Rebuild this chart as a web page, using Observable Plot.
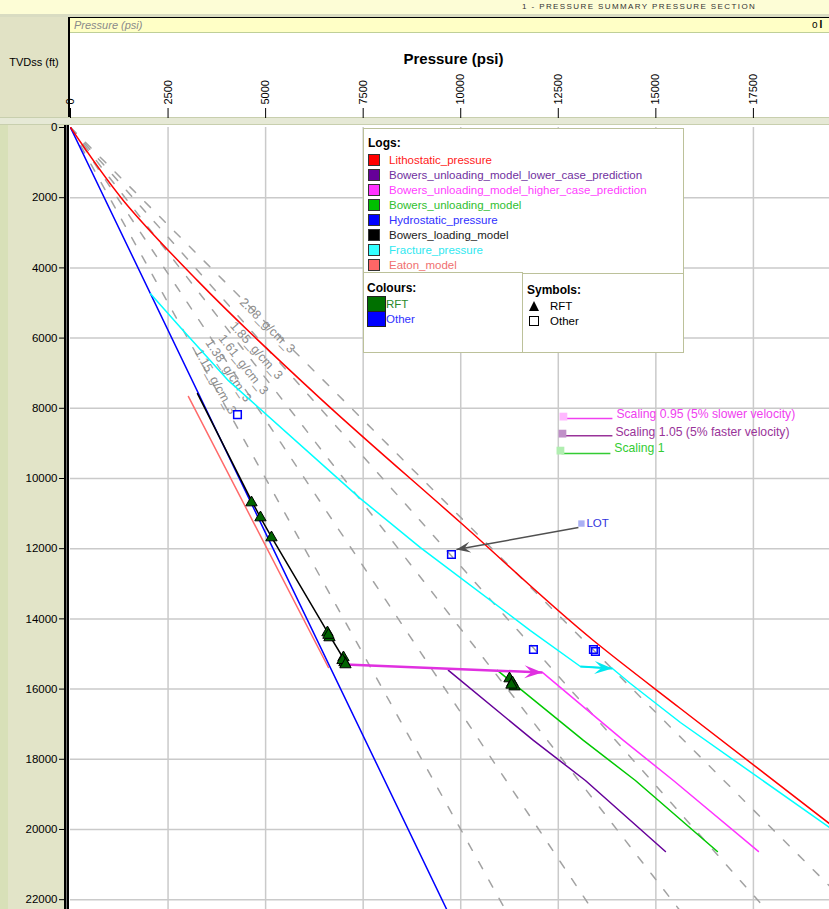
<!DOCTYPE html>
<html><head><meta charset="utf-8">
<script src="https://cdn.jsdelivr.net/npm/d3@7"></script>
<script src="https://cdn.jsdelivr.net/npm/@observablehq/plot@0.6"></script>
<style>
body{margin:0;background:#fff;font-family:"Liberation Sans",Arial,sans-serif;}
#wrap{position:relative;width:829px;height:909px;overflow:hidden;background:#fff;}
.abs{position:absolute;}
#wrap svg{position:absolute;left:0;top:0;}
g[aria-label="grad-label"] text{letter-spacing:1.6px;}
.leg{position:absolute;background:#fff;border:1.5px solid #bcc19a;box-sizing:border-box;font-size:11.5px;}
.leg b{font-size:12px;}
.row{position:absolute;left:4px;height:12px;line-height:12px;white-space:nowrap;}
.sw{display:inline-block;width:10px;height:10px;border:1px solid #333;vertical-align:middle;margin-right:9px;position:relative;top:-1px;}
</style></head><body>
<div id="wrap">
  <div class="abs" style="left:0;top:0;width:829px;height:14px;background:#fdfdd6;"></div>
  <div class="abs" style="left:522px;top:2px;font-size:8px;line-height:10px;letter-spacing:1.4px;color:#333;white-space:nowrap;">1 - PRESSURE SUMMARY PRESSURE SECTION</div>
  <div class="abs" style="left:0;top:14px;width:829px;height:3px;background:#d9dcc2;"></div>
  <div class="abs" style="left:0;top:17px;width:68px;height:101px;background:#e1e2c5;"></div>
  <div class="abs" style="left:68px;top:17px;width:2px;height:101px;background:#000;"></div>
  <div class="abs" style="left:68px;top:17px;width:761px;height:1px;background:#000;"></div>
  <div class="abs" style="left:70px;top:18px;width:759px;height:14px;background:#ffffc6;border-bottom:1px solid #bfcf98;"></div>
  <div class="abs" style="left:74px;top:18px;font-size:11px;font-style:italic;color:#8a8a8a;line-height:14px;">Pressure (psi)</div>
  <div class="abs" style="left:812px;top:18px;font-size:10px;color:#000;line-height:14px;">o&#8201;<b>I</b></div>
  <div class="abs" style="left:0;top:56px;width:68px;text-align:center;font-size:11px;color:#000;">TVDss (ft)</div>
  <div class="abs" style="left:74px;top:50px;width:759px;text-align:center;font-size:15px;font-weight:bold;color:#000;">Pressure (psi)</div>
  <div class="abs" style="left:0;top:117px;width:829px;height:8px;background:#e6e9d6;border-top:1px solid #c8cfae;border-bottom:1px solid #c8cfae;box-sizing:border-box;"></div>
  <div class="abs" style="left:0;top:125px;width:64px;height:784px;background:#e2e4c8;"></div>
  <div class="abs" style="left:0;top:125px;width:8px;height:784px;background:#d8e0b8;"></div>
  <div class="abs" style="left:64px;top:125px;width:2px;height:784px;background:#000;"></div>
  <div class="abs" style="left:66px;top:125px;width:1px;height:784px;background:#777;"></div>
  <div class="abs" style="left:67px;top:125px;width:2px;height:784px;background:#000;"></div>
</div>
<script>
// ---------- data ----------
const xTicks = [0, 2500, 5000, 7500, 10000, 12500, 15000, 17500];
const yTicks = [0, 2000, 4000, 6000, 8000, 10000, 12000, 14000, 16000, 18000, 20000, 22000];

const gradients = [0.5, 0.6, 0.7, 0.8, 0.9];               // psi/ft
const gradLabels = ["1.15_g/cm_3", "1.38_g/cm_3", "1.61_g/cm_3", "1.85_g/cm_3", "2.08_g/cm_3"];
const gradLabelPsi = [3715, 4048, 4432, 4765, 5047];
const gradLabelDepth = [7239, 6927, 6755, 6356, 5645];

const hydroDepth = [0, 22300];
const hydroPsi = [0, 9650];

const lithoDepth = [0, 2085, 4363, 7724, 11254, 14617, 16554, 19831];
const lithoPsi   = [0, 1358, 3254, 6405, 9992, 13400, 15629, 19447];

const fracDepth = [4735, 5701, 7212, 10573, 11968, 14332, 15357, 15414, 15841, 16952, 19943];
const fracPsi   = [2050, 2818, 4048, 7430, 8967, 11786, 13067, 13887, 14348, 15629, 19447];

const eatonDepth = [7665, 15385];
const eatonPsi   = [3023, 6610];

const loadDepth = [7581, 10572, 11113, 11711, 14417, 15129, 15299];
const loadPsi   = [3254, 4612, 4868, 5175, 6610, 6995, 7046];

const lowDepth  = [15469, 17463, 18604, 20626];
const lowPsi    = [9685, 11863, 13195, 15245];
const midDepth  = [15469, 17463, 18604, 20626];
const midPsi    = [10940, 13144, 14476, 16577];
const highDepth = [15526, 17463, 18604, 20626];
const highPsi   = [12093, 14169, 15450, 17627];

const rftPsi   = [4638, 4868, 5150, 6585, 6636, 6610, 6995, 7020, 6970, 7046, 11250, 11325, 11380, 11300];
const rftDepth = [10686, 11113, 11683, 14389, 14531, 14460, 15101, 15243, 15180, 15300, 15700, 15813, 15930, 15880];

const otherPsi   = [4279, 9762, 11863, 13400, 13451];
const otherDepth = [8180, 12167, 14873, 14873, 14930];

// arrows: [fromPsi, fromDepth, toPsi, toDepth]
const magentaArrow = [7046, 15299, 12093, 15526];
const cyanArrow    = [13067, 15357, 13887, 15414];
const lotArrow     = [13016, 11398, 9890, 12025];

const lotPsi = 13093, lotDepth = 11284;

const scaleTexts = ["Scaling 0.95 (5% slower velocity)", "Scaling 1.05 (5% faster velocity)", "Scaling 1"];
const scaleSquarePsi = [12631, 12606, 12555];
const scaleSquareDepth = [8237, 8722, 9206];
const scaleLineStart = [12631, 12606, 12580];
const scaleLineEnd = [13887, 13887, 13835];
const scaleLineDepth = [8294, 8779, 9291];
const scaleTextPsi = [13989, 13963, 13937];
const scaleTextDepth = [8152, 8665, 9120];
const scaleColors = ["#f040f0", "#993399", "#33cc33"];
const scaleSquareColors = ["#ffb8ff", "#c090c8", "#b0eeb0"];

// ---------- build ----------
const W = 829, H = 909, ML = 70, MT = 127;
const xDomain = [0, 19450], yDomain = [0, 22280];
const sx = d3.scaleLinear(xDomain, [ML, W]);
const sy = d3.scaleLinear(yDomain, [MT, H]);

const series = (ps, ds) => ps.map((p, i) => ({p, d: ds[i]}));
const gradRows = gradients.flatMap(g => [{p: 0, d: 0, g}, {p: g * 23000, d: 23000, g}]);
const gradLab = gradLabels.map((t, i) => ({t, p: gradLabelPsi[i], d: gradLabelDepth[i],
  a: Math.atan2(sy(1000) - sy(0), sx(gradients[i] * 1000) - sx(0)) * 180 / Math.PI}));

function head(L, Wd, notch) {
  return {draw(ctx) {
    ctx.moveTo(0, 0); ctx.lineTo(-L, -Wd / 2); ctx.lineTo(-L * notch, 0); ctx.lineTo(-L, Wd / 2); ctx.closePath();
  }};
}
function ang(a) { return Math.atan2(sy(a[3]) - sy(a[1]), sx(a[2]) - sx(a[0])) * 180 / Math.PI; }
function arrowMarks(a, color, L, Wd, width) {
  return [
    Plot.link([a], {x1: d => d[0], y1: d => d[1], x2: d => d[2], y2: d => d[3], stroke: color, strokeWidth: width}),
    Plot.dot([a], {x: d => d[2], y: d => d[3], symbol: head(L, Wd, 0.6), rotate: ang(a), fill: color, stroke: "none"})
  ];
}
const lw = 1.5;
const scaleRows = scaleTexts.map((t, i) => ({t, i}));

const plot = Plot.plot({
  width: W, height: H, marginLeft: ML, marginRight: 0, marginTop: MT, marginBottom: 0,
  x: {domain: xDomain}, y: {domain: yDomain, reverse: true},
  style: {fontFamily: "'Liberation Sans', Arial, sans-serif", fontSize: "11px", background: "transparent", color: "#000"},
  marks: [
    Plot.gridX(xTicks.slice(1), {stroke: "#cacaca", strokeOpacity: 1, strokeWidth: 1.5}),
    Plot.gridY(yTicks.slice(1), {stroke: "#cacaca", strokeOpacity: 1, strokeWidth: 1.5}),
    Plot.line(gradRows, {x: "p", y: "d", z: "g", stroke: "#a2a2a2", strokeWidth: 1.5, strokeDasharray: "8,13", clip: true}),
    Plot.text(gradLab, {x: "p", y: "d", text: "t", rotate: "a", fill: "#8c8c8c", fontSize: 12.5, ariaLabel: "grad-label"}),
    Plot.line(series(eatonPsi, eatonDepth), {x: "p", y: "d", stroke: "#ff6a6a", strokeWidth: lw}),
    Plot.line(series(hydroPsi, hydroDepth), {x: "p", y: "d", stroke: "#0000ff", strokeWidth: lw, clip: true}),
    Plot.line(series(lithoPsi, lithoDepth), {x: "p", y: "d", stroke: "#ff0000", strokeWidth: lw, curve: "monotone-y", clip: true}),
    Plot.line(series(fracPsi, fracDepth), {x: "p", y: "d", stroke: "#00ffff", strokeWidth: lw, clip: true}),
    Plot.line(series(loadPsi, loadDepth), {x: "p", y: "d", stroke: "#000", strokeWidth: lw}),
    Plot.line(series(lowPsi, lowDepth), {x: "p", y: "d", stroke: "#660099", strokeWidth: lw}),
    Plot.line(series(midPsi, midDepth), {x: "p", y: "d", stroke: "#00c800", strokeWidth: lw}),
    Plot.line(series(highPsi, highDepth), {x: "p", y: "d", stroke: "#ff33ff", strokeWidth: lw}),
    ...arrowMarks(magentaArrow, "#e030e0", 18, 13, 2.5),
    ...arrowMarks(cyanArrow, "#00e8f0", 18, 13, 2),
    ...arrowMarks(lotArrow, "#505050", 14, 11, 1.5),
    Plot.dot(series(rftPsi, rftDepth), {x: "p", y: "d", symbol: "triangle", r: 4.2, fill: "#006400", stroke: "#000", strokeWidth: 1}),
    Plot.dot(series(otherPsi, otherDepth), {x: "p", y: "d", symbol: "square", r: 4.3, fill: "none", stroke: "#0000ff", strokeWidth: 1.5}),
    Plot.dot([{p: lotPsi, d: lotDepth}], {x: "p", y: "d", symbol: "square", r: 3.6, fill: "#aab0f4", stroke: "none"}),
    Plot.text([{p: lotPsi, d: lotDepth}], {x: "p", y: "d", text: () => "LOT", dx: 5, textAnchor: "start", fill: "#3333dd", fontSize: 11.5}),
    Plot.link(scaleRows, {x1: d => scaleLineStart[d.i], x2: d => scaleLineEnd[d.i], y1: d => scaleLineDepth[d.i], y2: d => scaleLineDepth[d.i], stroke: d => scaleColors[d.i], strokeWidth: 1.5}),
    Plot.dot(scaleRows, {x: d => scaleSquarePsi[d.i], y: d => scaleSquareDepth[d.i], symbol: "square", r: 4.4, fill: d => scaleSquareColors[d.i], stroke: "none"}),
    Plot.text(scaleRows, {x: d => scaleTextPsi[d.i], y: d => scaleTextDepth[d.i], text: "t", textAnchor: "start", fill: d => scaleColors[d.i], fontSize: 12.2}),
    Plot.axisX(xTicks, {anchor: "top", tickRotate: -90, tickSize: 10, tickPadding: 3, dy: -10, label: null, tickFormat: d => String(d), fontSize: 11}),
    Plot.axisY(yTicks, {anchor: "left", tickSize: 5, tickPadding: 2, dx: -6, label: null, tickFormat: d => String(d), fontSize: 11.5})
  ]
});
const wrap = document.getElementById("wrap");
wrap.appendChild(plot);

// ---------- legend ----------
const logs = [
  ["Lithostatic_pressure", "#ff0000", "#ff2020"],
  ["Bowers_unloading_model_lower_case_prediction", "#660099", "#7030a0"],
  ["Bowers_unloading_model_higher_case_prediction", "#ff33ff", "#ff40ff"],
  ["Bowers_unloading_model", "#00c000", "#30c030"],
  ["Hydrostatic_pressure", "#0000ff", "#3030ff"],
  ["Bowers_loading_model", "#000000", "#222222"],
  ["Fracture_pressure", "#33ffff", "#30e8f0"],
  ["Eaton_model", "#ff6666", "#f07070"]
];
const colours = [["RFT", "#007000", "#2a8a2a"], ["Other", "#0000ff", "#3030ff"]];
const symbols = [["tri", "RFT"], ["sq", "Other"]];

const lg = document.createElement("div");
lg.className = "leg"; lg.style.cssText = "left:363px;top:128px;width:321px;height:171px;";
let html = '<div class="row" style="top:8px;"><b>Logs:</b></div>';
logs.forEach((l, i) => {
  html += `<div class="row" style="top:${25 + i * 15}px;"><span class="sw" style="background:${l[1]}"></span><span style="color:${l[2]}">${l[0]}</span></div>`;
});
lg.innerHTML = html; wrap.appendChild(lg);

const cb = document.createElement("div");
cb.className = "leg"; cb.style.cssText = "left:363px;top:272px;width:160px;height:81px;";
let h2 = '<div class="row" style="top:9px;left:3px;"><b>Colours:</b></div>';
colours.forEach((c, i) => {
  h2 += `<div class="row" style="top:${23 + i * 15}px;left:3px;height:15px;line-height:15px;"><span style="display:inline-block;width:17px;height:14px;background:${c[1]};border:1px solid #222;vertical-align:middle;"></span><span style="color:${c[2]};vertical-align:middle;">${c[0]}</span></div>`;
});
cb.innerHTML = h2; wrap.appendChild(cb);

const sb = document.createElement("div");
sb.className = "leg"; sb.style.cssText = "left:522px;top:273px;width:162px;height:80px;";
let h3 = '<div class="row" style="top:10px;"><b>Symbols:</b></div>';
symbols.forEach((s, i) => {
  const icon = s[0] === "tri"
    ? '<span style="display:inline-block;width:0;height:0;border-left:5px solid transparent;border-right:5px solid transparent;border-bottom:10px solid #000;vertical-align:middle;margin:0 11px 0 1px;"></span>'
    : '<span style="display:inline-block;width:8px;height:8px;border:1px solid #000;vertical-align:middle;margin:0 11px 0 1px;"></span>';
  h3 += `<div class="row" style="top:${24 + i * 15}px;left:5px;height:14px;line-height:14px;">${icon}<span style="vertical-align:middle;">${s[1]}</span></div>`;
});
sb.innerHTML = h3; wrap.appendChild(sb);
</script>
</body></html>
